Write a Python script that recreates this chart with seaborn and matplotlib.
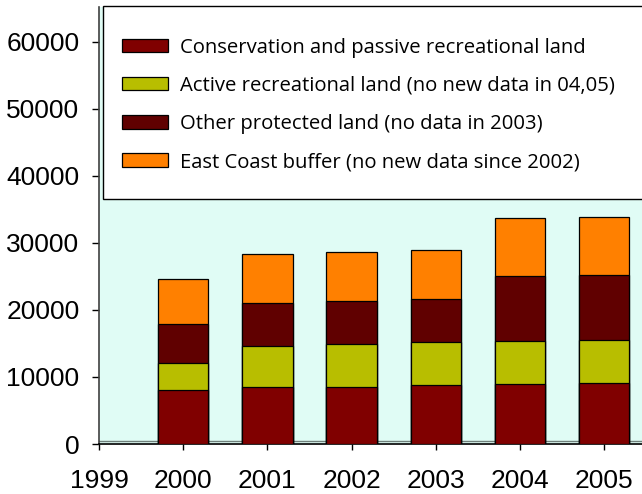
import matplotlib
matplotlib.use("Agg")
import matplotlib.pyplot as plt
from matplotlib.patches import Patch, Rectangle
import seaborn as sns
import pandas as pd

years = [2000, 2001, 2002, 2003, 2004, 2005]
conservation = [8050, 8450, 8500, 8750, 8950, 9050]
active = [3990, 6160, 6420, 6510, 6410, 6460]
other = [5800, 6420, 6360, 6320, 9650, 9650]
buffer = [6700, 7310, 7310, 7350, 8650, 8690]

labels = [
    "Conservation and passive recreational land",
    "Active recreational land (no new data in 04,05)",
    "Other protected land (no data in 2003)",
    "East Coast buffer (no new data since 2002)",
]
colors = ["#800000", "#B8BE00", "#600000", "#FF8000"]

sns.set_style("ticks")
plt.rcParams["font.family"] = ["Liberation Sans", "DejaVu Sans"]
plt.rcParams["text.color"] = "black"

df = pd.DataFrame({"year": years, "cons": conservation, "active": active,
                   "other": other, "buffer": buffer})
df["lvl1"] = df["cons"]
df["lvl2"] = df["lvl1"] + df["active"]
df["lvl3"] = df["lvl2"] + df["other"]
df["lvl4"] = df["lvl3"] + df["buffer"]

W, H = 642, 494
fig = plt.figure(figsize=(W / 100, H / 100), dpi=100)
ax = fig.add_axes([99 / W, 1 - 444 / H, 1 - 99 / W, (444 - 7.5) / H])
ax.set_facecolor("#E0FCF5")

# stacked bars drawn from the cumulative top down
for col, c in zip(["lvl4", "lvl3", "lvl2", "lvl1"], colors[::-1]):
    sns.barplot(data=df, x="year", y=col, native_scale=True, width=0.6,
                color=c, edgecolor="black", linewidth=0.9, saturation=1,
                ax=ax, zorder=3)

ax.axhline(400, color="#6E7F7A", lw=1.0, zorder=2)

ax.set_xlim(1999, 1999 + (W - 99) / 84.2)
ax.set_ylim(0, 65100)
ax.set_xticks(range(1999, 2006))
ax.set_xticklabels([str(y) for y in range(1999, 2006)])
ax.set_yticks(range(0, 60001, 10000))
ax.set_xlabel("")
ax.set_ylabel("")

for s in ["top", "right"]:
    ax.spines[s].set_visible(False)
ax.spines["left"].set_color("#404040")
ax.spines["bottom"].set_color("black")
ax.spines["left"].set_linewidth(1.2)
ax.spines["bottom"].set_linewidth(1.2)

ax.tick_params(axis="y", length=5, width=1, pad=9, labelsize=19, colors="black")
ax.tick_params(axis="x", length=4, width=1, pad=14, labelsize=19, colors="black")

# legend box
box = Rectangle((103 / W, 1 - 199.5 / H), 1.0, (199.5 - 6.5) / H,
                transform=fig.transFigure, facecolor="white", edgecolor="black",
                linewidth=1.0, zorder=4, clip_on=False)
ax.add_patch(box)

fs = 14.6
px = fs * 100 / 72
handles = [Patch(facecolor=c, edgecolor="black", linewidth=0.9) for c in colors]
leg = ax.legend(handles, labels, loc="upper left",
                bbox_to_anchor=(122 / W, 1 - 37.5 / H), bbox_transform=fig.transFigure,
                frameon=False, prop={"family": "Open Sans", "size": fs},
                labelcolor="black",
                handlelength=46 / px, handleheight=13 / px,
                handletextpad=12 / px,
                labelspacing=0.9, borderpad=0, borderaxespad=0)
leg.set_zorder(6)

fig.savefig("out.png", dpi=100)
